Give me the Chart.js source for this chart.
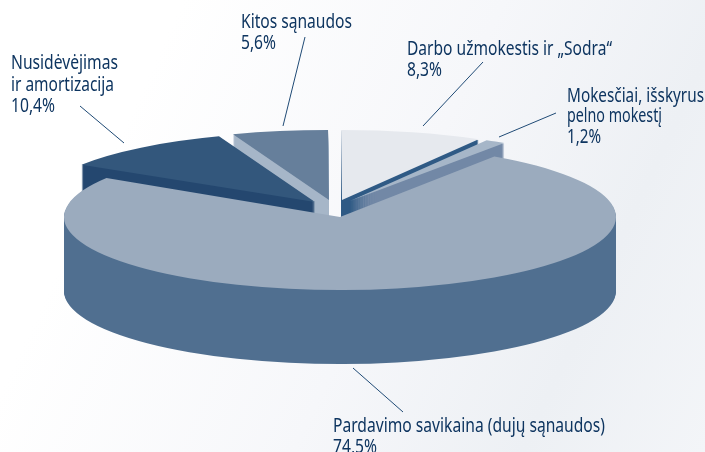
<!DOCTYPE html>
<html lang="lt"><head><meta charset="utf-8">
<style>
html,body{margin:0;padding:0;width:705px;height:452px;overflow:hidden;
background:linear-gradient(115deg,#ffffff 20%,#f6f7fa 55%,#edf0f4 80%,#f3f5f8 100%);}
canvas{display:block}
</style>
<script src="https://cdn.jsdelivr.net/npm/chart.js@4"></script>
</head><body>
<canvas id="c" width="705" height="452"></canvas>
<script>
const categories = ['Darbo užmokestis ir „Sodra“','Mokesčiai, išskyrus pelno mokestį','Pardavimo savikaina (dujų sąnaudos)','Nusidėvėjimas ir amortizacija','Kitos sąnaudos'];
const values = [8.3,1.2,74.5,10.4,5.6];
const topColors = ['#e6e9ee','#a6b6c8','#9babbe','#33577c','#667f9b'];
const sideColors = ['#2f5a85','#7288a6','#506f90','#24476f','#a6b6c8'];
const shiftX = [2,10,0,-25,-11];
const shiftY = [-17,-16,0,-15,-17];
const sliceTilt = [70/276,70/276,73/276,70/276,70/276];
const paintOrder = [4,0,1,3,2];

const pieX = 340, pieY = 217, pieRadius = 276, depth = 74;

const textColor = '#0e3560';
const fontSpec = '19.5px "Noto Sans"';
const fmt = v => v.toFixed(1).replace('.',',') + '%';
const textLines = [
 ['Kitos sąnaudos',241,28,111],[fmt(values[4]),241,49,35],
 ['Nusidėvėjimas',11,69,107],['ir amortizacija',11,91,103],[fmt(values[3]),11,112,44],
 ['Darbo užmokestis ir „Sodra“',407,55,205],[fmt(values[0]),407,76,35],
 ['Mokesčiai, išskyrus',567,102,137],['pelno mokestį',567,122,95],[fmt(values[1]),567,143,34],
 ['Pardavimo savikaina (dujų sąnaudos)',333,432,272],[fmt(values[2]),333,453,44]
];
const leaders = [
 [80,106,124,143],[305,37,283,126],[483,62,423,126],[556,113,499,137],[353,368,403,412]
];

const pie3d = {
  id:'pie3d',
  beforeDatasetsDraw(chart){
    const ctx = chart.ctx, arcs = chart.getDatasetMeta(0).data;
    const place = (c,arc,i,dy)=>{
      c.translate(pieX+shiftX[i], pieY+shiftY[i]+dy);
      c.scale(1,sliceTilt[i]);
      c.translate(-arc.x,-arc.y);
    };
    const off = document.createElement('canvas');
    off.width = chart.width; off.height = chart.height;
    const o = off.getContext('2d');
    for(const i of paintOrder){
      const arc = arcs[i];
      o.globalCompositeOperation='source-over';
      o.clearRect(0,0,off.width,off.height);
      for(let d=depth;d>=1;d--){
        o.save(); place(o,arc,i,d); arc.draw(o); o.restore();
      }
      // flatten the stacked layers into one even wall colour
      o.globalCompositeOperation='source-in';
      o.fillStyle=sideColors[i];
      o.fillRect(0,0,off.width,off.height);
      ctx.drawImage(off,0,0);
      ctx.save(); place(ctx,arc,i,0); arc.draw(ctx); ctx.restore();
    }
    return false;
  },
  afterDraw(chart){
    const ctx = chart.ctx;
    ctx.save();
    ctx.strokeStyle = '#1f4a75'; ctx.lineWidth = 1;
    for(const [a,b,c,d] of leaders){
      ctx.beginPath(); ctx.moveTo(a,b); ctx.lineTo(c,d); ctx.stroke();
    }
    ctx.fillStyle = textColor; ctx.font = fontSpec;
    ctx.textAlign='left'; ctx.textBaseline='alphabetic';
    for(const [t,x,y,w] of textLines) ctx.fillText(t,x,y,w);
    ctx.restore();
  }
};

new Chart(document.getElementById('c'),{
  type:'pie',
  data:{labels:categories,datasets:[{data:values,backgroundColor:topColors,borderWidth:0}]},
  options:{
    responsive:false,animation:false,rotation:-0.2,radius:pieRadius,
    layout:{padding:0},
    plugins:{legend:{display:false},tooltip:{enabled:false}}
  },
  plugins:[pie3d]
});
</script>
</body></html>
